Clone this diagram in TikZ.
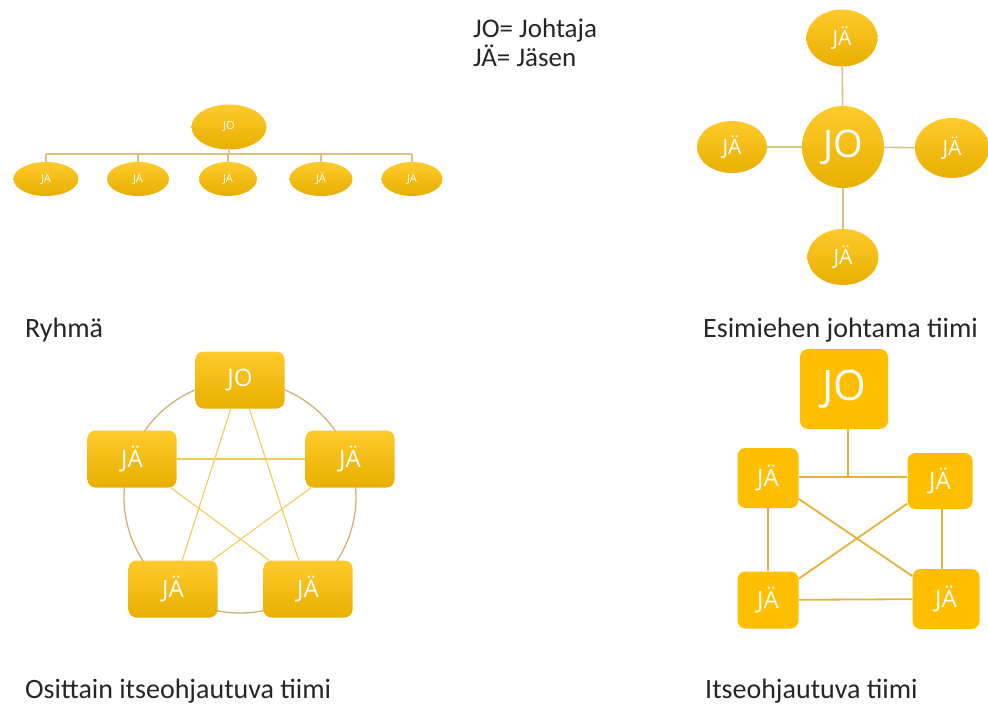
\documentclass[tikz,border=0pt]{standalone}
\usepackage{fontspec}
\setmainfont{Carlito}
\newfontfamily\shapefont{Open Sans}
\usetikzlibrary{shapes.geometric}

\definecolor{goldtop}{HTML}{FFCA2C}
\definecolor{goldbot}{HTML}{E8AF00}
\definecolor{goldflat}{HTML}{FFBE00}
\definecolor{treeline}{HTML}{D8C382}
\definecolor{ringline}{HTML}{C9B577}
\definecolor{starline}{HTML}{F2CC5E}
\definecolor{meshline}{HTML}{E2B23A}

\tikzset{
  oval/.style={ellipse, inner sep=0pt, draw=none, top color=goldtop, bottom color=goldbot,
    text=white, font=\shapefont},
  roundbox/.style={rectangle, rounded corners=8pt, inner sep=0pt, draw=none,
    top color=goldtop, bottom color=goldbot, text=white, font=\shapefont\fontsize{24}{28}\selectfont,
    minimum width=89pt, minimum height=57pt},
  flatbox/.style={rectangle, rounded corners=8pt, inner sep=0pt, draw=none,
    fill=goldflat, text=white, font=\shapefont\fontsize{24}{28}\selectfont},
  caption/.style={anchor=base west, inner sep=0pt, font=\fontsize{28}{32}\selectfont, text=black!85},
  legend/.style={anchor=base west, inner sep=0pt, font=\fontsize{27}{32}\selectfont, text=black!85},
  treelink/.style={draw=treeline, line width=1.6pt},
  starlink/.style={draw=starline, line width=1.1pt},
  meshlink/.style={draw=meshline, line width=1.8pt},
}

\begin{document}
\begin{tikzpicture}[x=1pt,y=-1pt]
\useasboundingbox[fill=white] (0,0) rectangle (988,706);

% legend
\node[legend] (legJO) at (473,38) {JO= Johtaja};
\node[legend] (legJA) at (473,67) {JÄ= Jäsen};

% ---- Ryhmä: hierarchy ----
\coordinate (bar) at (229,154);
\coordinate (barL) at (46,154);
\coordinate (barR) at (412,154);
\draw[treelink] (barL) -- (barR);
\node[oval, minimum width=75pt, minimum height=45pt, font=\shapefont\fontsize{11}{12}\selectfont] (r0) at (229,127) {JO};
\foreach \i/\x/\w in {1/46/65, 2/138/62, 3/228/58, 4/321/63, 5/412/61}{
  \node[oval, minimum width=\w pt, minimum height=34pt, font=\shapefont\fontsize{11}{12}\selectfont] (r\i) at (\x,179) {JÄ};
  \draw[treelink] (\x,154) -- (r\i.north);
}
\draw[treelink] (r0.south) -- (bar);
\node[caption] (capA) at (25,337) {Ryhmä};

% ---- Esimiehen johtama tiimi: star ----
\node[circle, inner sep=0pt, minimum size=82pt, top color=goldtop, bottom color=goldbot,
  text=white, font=\shapefont\fontsize{38}{40}\selectfont] (s0) at (843,147) {JO};
\node[oval, minimum width=71pt, minimum height=57pt, font=\shapefont\fontsize{21}{24}\selectfont] (sN) at (842,38) {JÄ};
\node[oval, minimum width=70pt, minimum height=52pt, font=\shapefont\fontsize{21}{24}\selectfont] (sW) at (732,147) {JÄ};
\node[oval, minimum width=74pt, minimum height=60pt, font=\shapefont\fontsize{21}{24}\selectfont] (sE) at (952,148) {JÄ};
\node[oval, minimum width=71pt, minimum height=56pt, font=\shapefont\fontsize{21}{24}\selectfont] (sS) at (843,257) {JÄ};
\draw[treelink] (s0) -- (sN);
\draw[treelink] (s0) -- (sW);
\draw[treelink] (s0) -- (sE);
\draw[treelink] (s0) -- (sS);
\node[caption] (capB) at (703,337) {Esimiehen johtama tiimi};

% ---- Osittain itseohjautuva tiimi: pentagon ----
\draw[draw=ringline, line width=1.3pt] (240,497) circle[radius=116pt];
\node[roundbox] (p0) at (240,380) {JO};
\node[roundbox] (p1) at (132,459) {JÄ};
\node[roundbox] (p2) at (350,459) {JÄ};
\node[roundbox] (p3) at (173,589) {JÄ};
\node[roundbox] (p4) at (308,589) {JÄ};
\draw[starlink] (p0) -- (p3);
\draw[starlink] (p0) -- (p4);
\draw[starlink] (p1) -- (p2);
\draw[starlink] (p1) -- (p4);
\draw[starlink] (p2) -- (p3);
\node[caption] (capC) at (25,698) {Osittain itseohjautuva tiimi};

% ---- Itseohjautuva tiimi: mesh ----
\node[flatbox, minimum width=88pt, minimum height=80pt, font=\shapefont\fontsize{42}{44}\selectfont] (m0) at (844,389) {JO};
\node[flatbox, minimum width=61pt, minimum height=60pt] (m1) at (768,478) {JÄ};
\node[flatbox, minimum width=65pt, minimum height=56pt] (m2) at (940,481) {JÄ};
\node[flatbox, minimum width=61pt, minimum height=57pt] (m3) at (768,600) {JÄ};
\node[flatbox, minimum width=67pt, minimum height=60pt] (m4) at (946,599) {JÄ};
\coordinate (mj) at (848,477);
\draw[meshlink] (m1.east |- mj) -- (m2.west |- mj);
\draw[meshlink] (m0.south -| mj) -- (mj);
\draw[meshlink] (m1.south) -- (m3.north);
\draw[meshlink] ([xshift=2pt]m2.south) -- ([xshift=-4pt]m4.north);
\draw[meshlink] (m1) -- (m4);
\draw[meshlink] (m2) -- (m3);
\draw[meshlink] (m3) -- (m4);
\node[caption] (capD) at (705,698) {Itseohjautuva tiimi};
\end{tikzpicture}
\end{document}
